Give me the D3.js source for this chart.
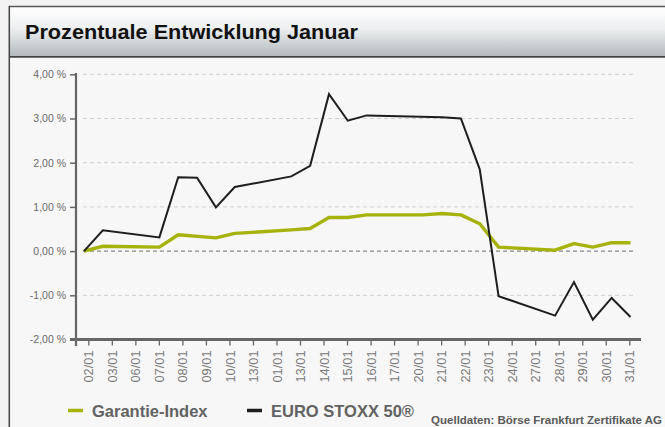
<!DOCTYPE html>
<html lang="de">
<head>
<meta charset="UTF-8">
<title>Prozentuale Entwicklung Januar</title>
<script src="https://d3js.org/d3.v7.min.js"></script>
<style>
  body { margin: 0; background: #f3f3f3; font-family: "Liberation Sans", Arial, sans-serif; }
  svg { display: block; }
</style>
</head>
<body>
<div id="chart"></div>
<script>
// tick labels of the x axis (as printed in the original)
const tickLabels = ["02/01","03/01","06/01","07/01","08/01","09/01","10/01","13/01","01/01","13/01","14/01","15/01",
                    "16/01","17/01","20/01","21/01","22/01","23/01","24/01","27/01","28/01","29/01","30/01","31/01"];
const yTicks = [-2, -1, 0, 1, 2, 3, 4];

// day offsets from 02/01 and values in %
const stoxxDays = [0, 1, 4, 5, 6, 7, 8, 11, 12, 13, 14, 15, 19, 20, 21, 22, 25, 26, 27, 28, 29];
const stoxxValues = [0, 0.47, 0.31, 1.67, 1.66, 0.99, 1.45, 1.69, 1.93, 3.55, 2.95, 3.07, 3.03, 3.0, 1.85, -1.02, -1.46, -0.70, -1.55, -1.06, -1.49];

const garantieDays = [0, 1, 4, 5, 7, 8, 11, 12, 13, 14, 15, 18, 19, 20, 21, 22, 25, 26, 27, 28, 29];
const garantieValues = [0, 0.11, 0.09, 0.37, 0.30, 0.40, 0.48, 0.51, 0.76, 0.76, 0.82, 0.82, 0.85, 0.82, 0.62, 0.09, 0.02, 0.17, 0.09, 0.19, 0.19];

const width = 665, height = 427;

const svg = d3.select("#chart").append("svg")
    .attr("width", width)
    .attr("height", height);

// frame + title bar
const defs = svg.append("defs");
const grad = defs.append("linearGradient").attr("id", "titleGrad")
    .attr("x1", 0).attr("y1", 0).attr("x2", 0).attr("y2", 1);
grad.append("stop").attr("offset", "0%").attr("stop-color", "#ffffff");
grad.append("stop").attr("offset", "45%").attr("stop-color", "#eceeef");
grad.append("stop").attr("offset", "100%").attr("stop-color", "#b3babe");

svg.append("rect").attr("x", 9).attr("y", 6).attr("width", 660).attr("height", 425).attr("fill", "#f7f7f7");
svg.append("rect").attr("x", 9).attr("y", 7).attr("width", 660).attr("height", 49).attr("fill", "url(#titleGrad)");
svg.append("line").attr("x1", 9).attr("x2", 670).attr("y1", 6.5).attr("y2", 6.5).attr("stroke", "#5a5a5a").attr("stroke-width", 1.5);
svg.append("line").attr("x1", 9).attr("x2", 670).attr("y1", 56.8).attr("y2", 56.8).attr("stroke", "#444").attr("stroke-width", 1.8);
svg.append("line").attr("x1", 9.3).attr("x2", 9.3).attr("y1", 6).attr("y2", 430).attr("stroke", "#444").attr("stroke-width", 1.5);

svg.append("text")
    .attr("x", 25).attr("y", 39)
    .attr("font-size", 20.5).attr("font-weight", "bold").attr("fill", "#111")
    .attr("textLength", 333).attr("lengthAdjust", "spacingAndGlyphs")
    .text("Prozentuale Entwicklung Januar");

// scales
const x = d3.scaleLinear().domain([0, 29]).range([84, 630.5]);
const xTicks = d3.scalePoint().domain(d3.range(tickLabels.length)).range([88.3, 629.3]);
const y = d3.scaleLinear().domain([-2, 4]).range([339.5, 74.3]);

const locale = d3.formatLocale({ decimal: ",", thousands: ".", grouping: [3], currency: ["", " €"], minus: "-" });
const fmt = locale.format(".2f");

// grid lines
svg.append("g").selectAll("line")
    .data(yTicks.filter(d => d !== -2))
    .join("line")
    .attr("x1", 83).attr("x2", 635)
    .attr("y1", d => y(d)).attr("y2", d => y(d))
    .attr("stroke", d => d === 0 ? "#8a8a8a" : "#cfcfcf")
    .attr("stroke-width", d => d === 0 ? 1.3 : 1)
    .attr("stroke-dasharray", "4,3");

// y axis
const yAxis = d3.axisLeft(y).tickValues(yTicks).tickSize(6).tickSizeOuter(0).tickPadding(4)
    .tickFormat(d => fmt(d) + " %");
const gy = svg.append("g").attr("transform", "translate(76,0)").call(yAxis);
gy.select(".domain").remove();
gy.selectAll(".tick line").attr("stroke", "#666").attr("stroke-width", 1.5);
gy.selectAll(".tick text").attr("fill", "#6a6a6a").attr("font-size", 10.5)
    .attr("font-family", "'Liberation Sans', Arial, sans-serif");

// x axis
const xAxis = d3.axisBottom(xTicks).tickSize(6).tickSizeOuter(0).tickFormat(i => tickLabels[i]);
const gx = svg.append("g").attr("transform", "translate(0,339.5)").call(xAxis);
gx.select(".domain").remove();
gx.selectAll(".tick line").attr("stroke", "#666").attr("stroke-width", 1.3);
gx.selectAll(".tick text")
    .attr("fill", "#777").attr("font-size", 12.8)
    .attr("font-family", "'Liberation Sans', Arial, sans-serif")
    .attr("text-anchor", "end")
    .attr("transform", "rotate(-90)")
    .attr("x", -11).attr("y", 0).attr("dy", "0.36em");

// axis lines
svg.append("line").attr("x1", 76).attr("x2", 76).attr("y1", 73).attr("y2", 346)
    .attr("stroke", "#666").attr("stroke-width", 2.2);
svg.append("line").attr("x1", 70).attr("x2", 641).attr("y1", 339.5).attr("y2", 339.5)
    .attr("stroke", "#666").attr("stroke-width", 2.8);

// series
const line = d3.line().x(d => x(d[0])).y(d => y(d[1]));

svg.append("path")
    .datum(d3.zip(garantieDays, garantieValues))
    .attr("d", line)
    .attr("fill", "none")
    .attr("stroke", "#a6b30c")
    .attr("stroke-width", 3.4)
    .attr("stroke-linejoin", "round");

svg.append("path")
    .datum(d3.zip(stoxxDays, stoxxValues))
    .attr("d", line)
    .attr("fill", "none")
    .attr("stroke", "#1e1e1e")
    .attr("stroke-width", 2)
    .attr("stroke-linejoin", "miter");

// legend
const legend = svg.append("g").attr("font-family", "'Liberation Sans', Arial, sans-serif");
const legendItems = [
    { label: "Garantie-Index", color: "#a6b30c", x: 68 },
    { label: "EURO STOXX 50®", color: "#1e1e1e", x: 247 }
];
legendItems.forEach(d => {
    legend.append("line").attr("x1", d.x).attr("x2", d.x + 15).attr("y1", 410.5).attr("y2", 410.5)
        .attr("stroke", d.color).attr("stroke-width", 3.5);
    legend.append("text").attr("x", d.x + 24).attr("y", 416.5)
        .attr("font-size", 16.5).attr("font-weight", "bold").attr("fill", "#626262")
        .text(d.label);
});

svg.append("text")
    .attr("x", 662).attr("y", 424)
    .attr("text-anchor", "end")
    .attr("font-size", 11.5).attr("font-weight", "bold").attr("fill", "#5a5a5a")
    .attr("font-family", "'Liberation Sans', Arial, sans-serif")
    .text("Quelldaten: Börse Frankfurt Zertifikate AG");
</script>
</body>
</html>
